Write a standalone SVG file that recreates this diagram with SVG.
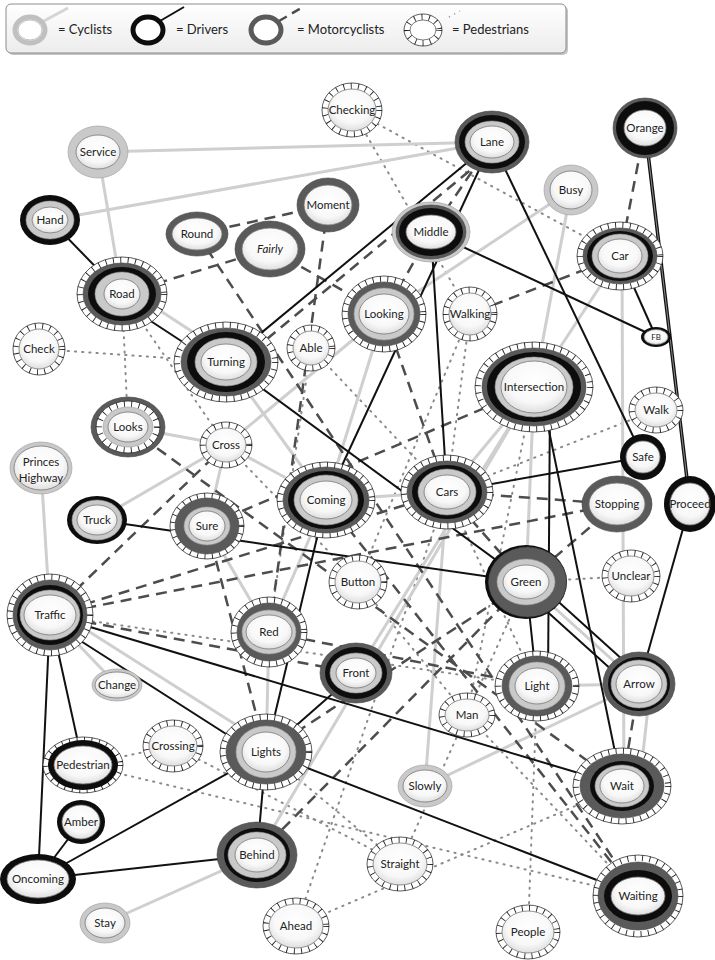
<svg xmlns="http://www.w3.org/2000/svg" width="715" height="960" viewBox="0 0 715 960">
<defs>
<radialGradient id="gi" cx="50%" cy="40%" r="62%"><stop offset="0" stop-color="#ffffff"/><stop offset="0.65" stop-color="#f8f8f8"/><stop offset="1" stop-color="#dcdcdc"/></radialGradient>
<linearGradient id="lg" x1="0" y1="0" x2="0" y2="1"><stop offset="0" stop-color="#ffffff"/><stop offset="1" stop-color="#ececec"/></linearGradient>
<style>
.po{fill:#fff;stroke:#333;stroke-width:.8}
.pt{fill:none;stroke:#222;stroke-width:6;stroke-dasharray:.9 6.5}
.m{fill:#5a5a5a;stroke:#444;stroke-width:.6}
.d{fill:#0d0d0d}
.c{fill:#c9c9c9;stroke:#9a9a9a;stroke-width:.6}
.in{fill:url(#gi);stroke:#777;stroke-width:.8}
.t{font-family:Lato,"Open Sans","Liberation Sans",sans-serif;font-size:11.5px;fill:#222;text-anchor:middle}
.lt{font-family:Lato,"Open Sans","Liberation Sans",sans-serif;font-size:13px;fill:#222}
.ec{stroke:#cfcfcf;stroke-width:3;fill:none}
.ed{stroke:#111;stroke-width:2;fill:none}
.em{stroke:#4d4d4d;stroke-width:2.5;stroke-dasharray:11 7;fill:none}
.ep{stroke:#8a8a8a;stroke-width:2;stroke-dasharray:1.2 6;stroke-linecap:round;fill:none}
</style>
</defs>
<rect width="715" height="960" fill="#fff"/>

<g id="legend">
<rect x="8" y="6" width="560" height="49" rx="5" fill="#c4c4c4"/>
<rect x="6" y="4" width="560" height="49" rx="5" fill="url(#lg)" stroke="#8c8c8c" stroke-width="1"/>
<line x1="42" y1="22" x2="68" y2="8" stroke="#d4d4d4" stroke-width="3"/>
<ellipse cx="30" cy="30" rx="15" ry="13" fill="#fff" stroke="#c0c0c0" stroke-width="5"/>
<ellipse cx="30" cy="30" rx="12" ry="10" fill="none" stroke="#999" stroke-width=".6"/>
<text class="lt" x="58" y="34">= Cyclists</text>
<line x1="160" y1="21" x2="184" y2="7" stroke="#111" stroke-width="2"/>
<ellipse cx="148" cy="30" rx="15" ry="13" fill="#fff" stroke="#0d0d0d" stroke-width="5"/>
<text class="lt" x="176" y="34">= Drivers</text>
<line x1="279" y1="21" x2="303" y2="7" stroke="#4d4d4d" stroke-width="2.5" stroke-dasharray="9 6"/>
<ellipse cx="266" cy="30" rx="15" ry="13" fill="#fff" stroke="#5a5a5a" stroke-width="5"/>
<text class="lt" x="297" y="34">= Motorcyclists</text>
<line x1="449" y1="17" x2="460" y2="11" stroke="#8a8a8a" stroke-width="1.5" stroke-dasharray="1 5"/>
<ellipse cx="423" cy="30" rx="19" ry="16" class="po"/>
<ellipse cx="423" cy="30" rx="16" ry="13" class="pt"/>
<ellipse cx="423" cy="30" rx="13" ry="10" fill="#fff" stroke="#444" stroke-width=".7"/>
<text class="lt" x="452" y="34">= Pedestrians</text>
</g>

<g id="connectors">
<!-- pedestrian (dotted) -->
<line class="ep" x1="352" y1="110" x2="620" y2="256"/>
<line class="ep" x1="352" y1="110" x2="470" y2="314"/>
<line class="ep" x1="39" y1="349" x2="226" y2="362"/>
<line class="ep" x1="122" y1="294" x2="128" y2="427"/>
<line class="ep" x1="122" y1="294" x2="226" y2="445"/>
<line class="ep" x1="470" y1="314" x2="447" y2="492"/>
<line class="ep" x1="534" y1="387" x2="467" y2="715"/>
<line class="ep" x1="656" y1="410" x2="447" y2="492"/>
<line class="ep" x1="50" y1="615" x2="537" y2="686"/>
<line class="ep" x1="83" y1="765" x2="173" y2="746"/>
<line class="ep" x1="83" y1="765" x2="638" y2="896"/>
<line class="ep" x1="266" y1="752" x2="400" y2="864"/>
<line class="ep" x1="296" y1="926" x2="447" y2="492"/>
<line class="ep" x1="296" y1="926" x2="622" y2="786"/>
<line class="ep" x1="528" y1="932" x2="537" y2="686"/>
<line class="ep" x1="467" y1="715" x2="638" y2="896"/>
<line class="ep" x1="311" y1="348" x2="269" y2="632"/>
<line class="ep" x1="526" y1="582" x2="631" y2="576"/>
<line class="ep" x1="311" y1="348" x2="447" y2="492"/>
<line class="ep" x1="226" y1="445" x2="358" y2="582"/>
<line class="ep" x1="470" y1="314" x2="358" y2="582"/>
<line class="ep" x1="173" y1="746" x2="400" y2="864"/>
<line class="ep" x1="358" y1="582" x2="467" y2="715"/>
<line class="ep" x1="447" y1="492" x2="537" y2="686"/>
<line class="ep" x1="400" y1="864" x2="526" y2="582"/>
<!-- cyclists (light grey) -->
<line class="ec" x1="98" y1="152" x2="492" y2="142"/>
<line class="ec" x1="50" y1="220" x2="492" y2="142"/>
<line class="ec" x1="98" y1="152" x2="122" y2="294"/>
<line class="ec" x1="127" y1="289" x2="231" y2="357"/>
<line class="ec" x1="226" y1="362" x2="326" y2="500"/>
<line class="ec" x1="128" y1="427" x2="226" y2="445"/>
<line class="ec" x1="226" y1="445" x2="326" y2="500"/>
<line class="ec" x1="226" y1="445" x2="97" y2="520"/>
<line class="ec" x1="226" y1="445" x2="207" y2="526"/>
<line class="ec" x1="226" y1="445" x2="384" y2="314"/>
<line class="ec" x1="41" y1="468" x2="50" y2="615"/>
<line class="ec" x1="50" y1="615" x2="117" y2="685"/>
<line class="ec" x1="55" y1="610" x2="271" y2="747"/>
<line class="ec" x1="571" y1="190" x2="534" y2="387"/>
<line class="ec" x1="571" y1="190" x2="384" y2="314"/>
<line class="ec" x1="620" y1="256" x2="534" y2="387"/>
<line class="ec" x1="622" y1="256" x2="624" y2="786"/>
<line class="ec" x1="534" y1="387" x2="447" y2="492"/>
<line class="ec" x1="534" y1="387" x2="526" y2="582"/>
<line class="ec" x1="326" y1="500" x2="447" y2="492"/>
<line class="ec" x1="326" y1="500" x2="384" y2="314"/>
<line class="ec" x1="526" y1="582" x2="639" y2="684"/>
<line class="ec" x1="537" y1="686" x2="639" y2="684"/>
<line class="ec" x1="639" y1="684" x2="425" y2="786"/>
<line class="ec" x1="650" y1="690" x2="640" y2="780"/>
<line class="ec" x1="425" y1="786" x2="447" y2="492"/>
<line class="ec" x1="326" y1="500" x2="269" y2="632"/>
<line class="ec" x1="269" y1="632" x2="207" y2="526"/>
<line class="ec" x1="269" y1="632" x2="266" y2="752"/>
<line class="ec" x1="257" y1="855" x2="105" y2="923"/>
<line class="ec" x1="257" y1="855" x2="534" y2="387"/>
<line class="ec" x1="356" y1="673" x2="534" y2="387"/>
<!-- motorcyclists (dashed) -->
<line class="em" x1="492" y1="142" x2="431" y2="232"/>
<line class="em" x1="497" y1="148" x2="232" y2="368"/>
<line class="em" x1="431" y1="232" x2="384" y2="314"/>
<line class="em" x1="328" y1="205" x2="197" y2="234"/>
<line class="em" x1="122" y1="294" x2="270" y2="249"/>
<line class="em" x1="197" y1="234" x2="638" y2="896"/>
<line class="em" x1="328" y1="205" x2="269" y2="632"/>
<line class="em" x1="270" y1="249" x2="384" y2="314"/>
<line class="em" x1="645" y1="128" x2="620" y2="256"/>
<line class="em" x1="620" y1="256" x2="470" y2="314"/>
<line class="em" x1="534" y1="387" x2="207" y2="526"/>
<line class="em" x1="447" y1="492" x2="617" y2="504"/>
<line class="em" x1="617" y1="504" x2="526" y2="582"/>
<line class="em" x1="128" y1="427" x2="622" y2="786"/>
<line class="em" x1="50" y1="615" x2="447" y2="492"/>
<line class="em" x1="50" y1="615" x2="617" y2="504"/>
<line class="em" x1="50" y1="615" x2="226" y2="445"/>
<line class="em" x1="50" y1="615" x2="356" y2="673"/>
<line class="em" x1="269" y1="632" x2="537" y2="686"/>
<line class="em" x1="266" y1="752" x2="526" y2="582"/>
<line class="em" x1="257" y1="855" x2="526" y2="582"/>
<line class="em" x1="639" y1="684" x2="622" y2="786"/>
<line class="em" x1="326" y1="500" x2="638" y2="896"/>
<line class="em" x1="207" y1="526" x2="266" y2="752"/>
<line class="em" x1="384" y1="314" x2="447" y2="492"/>
<line class="em" x1="447" y1="492" x2="526" y2="582"/>
<!-- drivers (black) -->
<line class="ed" x1="50" y1="220" x2="122" y2="294"/>
<line class="ed" x1="117" y1="299" x2="221" y2="367"/>
<line class="ed" x1="226" y1="362" x2="492" y2="142"/>
<line class="ed" x1="492" y1="142" x2="326" y2="500"/>
<line class="ed" x1="492" y1="142" x2="643" y2="457"/>
<line class="ed" x1="431" y1="232" x2="447" y2="492"/>
<line class="ed" x1="431" y1="232" x2="656" y2="337"/>
<line class="ed" x1="620" y1="256" x2="656" y2="337"/>
<line x1="645" y1="128" x2="690" y2="504" stroke="#111" stroke-width="3.5"/>
<line x1="645" y1="128" x2="690" y2="504" stroke="#999" stroke-width=".9"/>
<line class="ed" x1="690" y1="504" x2="639" y2="684"/>
<line class="ed" x1="226" y1="362" x2="526" y2="582"/>
<line class="ed" x1="97" y1="520" x2="526" y2="582"/>
<line class="ed" x1="447" y1="492" x2="643" y2="457"/>
<line class="ed" x1="540" y1="387" x2="622" y2="786"/>
<line class="ed" x1="550" y1="400" x2="548" y2="680"/>
<line class="ed" x1="526" y1="582" x2="537" y2="686"/>
<line class="ed" x1="531" y1="577" x2="644" y2="679"/>
<line class="ed" x1="521" y1="588" x2="634" y2="690"/>
<line class="ed" x1="48" y1="620" x2="262" y2="757"/>
<line class="ed" x1="50" y1="615" x2="622" y2="786"/>
<line class="ed" x1="50" y1="615" x2="83" y2="765"/>
<line class="ed" x1="50" y1="615" x2="38" y2="879"/>
<line class="ed" x1="356" y1="673" x2="266" y2="752"/>
<line class="ed" x1="266" y1="752" x2="38" y2="879"/>
<line class="ed" x1="266" y1="752" x2="638" y2="896"/>
<line class="ed" x1="266" y1="752" x2="257" y2="855"/>
<line class="ed" x1="257" y1="855" x2="38" y2="879"/>
<line class="ed" x1="81" y1="822" x2="38" y2="879"/>
<line class="ed" x1="326" y1="500" x2="266" y2="752"/>
</g>

<g id="nodes">
<g id="n-checking" transform="translate(352,110)"><ellipse class="po" rx="30" ry="27"/><ellipse class="pt" rx="27" ry="24"/><ellipse class="in" rx="24" ry="21"/><text class="t" dy="4">Checking</text></g>
<g id="n-service" transform="translate(98,152)"><ellipse class="c" rx="30" ry="26"/><ellipse class="in" rx="22" ry="17"/><text class="t" dy="4">Service</text></g>
<g id="n-lane" transform="translate(492,142)"><ellipse class="m" rx="37" ry="31"/><ellipse class="d" rx="33" ry="27"/><ellipse class="c" rx="27" ry="21"/><ellipse class="in" rx="22" ry="16"/><text class="t" dy="4">Lane</text></g>
<g id="n-orange" transform="translate(645,128)"><ellipse class="m" rx="32" ry="30"/><ellipse class="d" rx="29" ry="27"/><ellipse class="in" rx="21" ry="18"/><text class="t" dy="4">Orange</text></g>
<g id="n-busy" transform="translate(571,190)"><ellipse class="c" rx="27" ry="25"/><ellipse class="in" rx="21" ry="19"/><text class="t" dy="4">Busy</text></g>
<g id="n-hand" transform="translate(50,220)"><ellipse class="d" rx="30" ry="25"/><ellipse class="c" rx="24" ry="19"/><ellipse class="in" rx="18" ry="13"/><text class="t" dy="4">Hand</text></g>
<g id="n-moment" transform="translate(328,205)"><ellipse class="m" rx="31" ry="27"/><ellipse class="in" rx="24" ry="20"/><text class="t" dy="4">Moment</text></g>
<g id="n-round" transform="translate(197,234)"><ellipse class="m" rx="31" ry="22"/><ellipse class="in" rx="25" ry="16"/><text class="t" dy="4">Round</text></g>
<g id="n-fairly" transform="translate(270,249)"><ellipse class="m" rx="35" ry="28"/><ellipse class="in" rx="28" ry="21"/><text class="t" dy="4" font-style="italic">Fairly</text></g>
<g id="n-middle" transform="translate(431,232)"><ellipse class="c" rx="39" ry="30"/><ellipse class="m" rx="35" ry="27"/><ellipse class="d" rx="32" ry="24"/><ellipse class="in" rx="25" ry="17"/><text class="t" dy="4">Middle</text></g>
<g id="n-car" transform="translate(620,256)"><ellipse class="po" rx="43" ry="34"/><ellipse class="pt" rx="40" ry="31"/><ellipse class="m" rx="37" ry="28"/><ellipse class="d" rx="33" ry="25"/><ellipse class="c" rx="28" ry="22"/><ellipse class="in" rx="22" ry="17"/><text class="t" dy="4">Car</text></g>
<g id="n-road" transform="translate(122,294)"><ellipse class="po" rx="45" ry="37"/><ellipse class="pt" rx="42" ry="34"/><ellipse class="m" rx="39" ry="31"/><ellipse class="d" rx="34" ry="27"/><ellipse class="c" rx="27" ry="22"/><ellipse class="in" rx="18" ry="15"/><text class="t" dy="4">Road</text></g>
<g id="n-turning" transform="translate(226,362)"><ellipse class="po" rx="52" ry="40"/><ellipse class="pt" rx="49" ry="37"/><ellipse class="m" rx="45" ry="34"/><ellipse class="d" rx="39" ry="30"/><ellipse class="c" rx="31" ry="24"/><ellipse class="in" rx="25" ry="18"/><text class="t" dy="4">Turning</text></g>
<g id="n-able" transform="translate(311,348)"><ellipse class="po" rx="24" ry="23"/><ellipse class="pt" rx="21" ry="20"/><ellipse class="in" rx="18" ry="17"/><text class="t" dy="4">Able</text></g>
<g id="n-looking" transform="translate(384,314)"><ellipse class="po" rx="42" ry="38"/><ellipse class="pt" rx="39" ry="35"/><ellipse class="m" rx="36" ry="32"/><ellipse class="c" rx="30" ry="26"/><ellipse class="in" rx="25" ry="20"/><text class="t" dy="4">Looking</text></g>
<g id="n-walking" transform="translate(470,314)"><ellipse class="po" rx="27" ry="27"/><ellipse class="pt" rx="24" ry="24"/><ellipse class="in" rx="21" ry="21"/><text class="t" dy="4">Walking</text></g>
<g id="n-fb" transform="translate(656,337)"><ellipse class="d" rx="15" ry="10"/><ellipse class="in" rx="12" ry="7.5"/><text class="t" dy="3" style="font-size:8px">FB</text></g>
<g id="n-check" transform="translate(39,349)"><ellipse class="po" rx="26" ry="26"/><ellipse class="pt" rx="23" ry="23"/><ellipse class="in" rx="20" ry="20"/><text class="t" dy="4">Check</text></g>
<g id="n-intersection" transform="translate(534,387)"><ellipse class="po" rx="59" ry="45"/><ellipse class="pt" rx="56" ry="42"/><ellipse class="m" rx="52" ry="39"/><ellipse class="d" rx="47" ry="35"/><ellipse class="c" rx="39" ry="30"/><ellipse class="in" rx="33" ry="26"/><text class="t" dy="4">Intersection</text></g>
<g id="n-looks" transform="translate(128,427)"><ellipse class="m" rx="37" ry="30"/><ellipse class="po" rx="32" ry="26"/><ellipse class="pt" rx="29" ry="23"/><ellipse class="c" rx="25" ry="20"/><ellipse class="in" rx="20" ry="15"/><text class="t" dy="4">Looks</text></g>
<g id="n-cross" transform="translate(226,445)"><ellipse class="po" rx="26" ry="23"/><ellipse class="pt" rx="23" ry="20"/><ellipse class="in" rx="20" ry="17"/><text class="t" dy="4">Cross</text></g>
<g id="n-walk" transform="translate(656,410)"><ellipse class="po" rx="27" ry="23"/><ellipse class="pt" rx="24" ry="20"/><ellipse class="in" rx="21" ry="17"/><text class="t" dy="4">Walk</text></g>
<g id="n-safe" transform="translate(643,457)"><ellipse class="d" rx="23" ry="23"/><ellipse class="in" rx="17" ry="16"/><text class="t" dy="4">Safe</text></g>
<g id="n-princes" transform="translate(41,468)"><ellipse class="c" rx="31" ry="26"/><ellipse class="in" rx="27" ry="22"/><text class="t" y="-6" dy="4">Princes</text><text class="t" y="10" dy="4">Highway</text></g>
<g id="n-coming" transform="translate(326,500)"><ellipse class="po" rx="49" ry="38"/><ellipse class="pt" rx="46" ry="35"/><ellipse class="m" rx="43" ry="33"/><ellipse class="d" rx="38" ry="29"/><ellipse class="c" rx="32" ry="25"/><ellipse class="in" rx="26" ry="19"/><text class="t" dy="4">Coming</text></g>
<g id="n-cars" transform="translate(447,492)"><ellipse class="po" rx="46" ry="37"/><ellipse class="pt" rx="43" ry="34"/><ellipse class="m" rx="40" ry="31"/><ellipse class="d" rx="35" ry="27"/><ellipse class="c" rx="29" ry="23"/><ellipse class="in" rx="23" ry="17"/><text class="t" dy="4">Cars</text></g>
<g id="n-stopping" transform="translate(617,504)"><ellipse class="m" rx="35" ry="28"/><ellipse class="in" rx="28" ry="21"/><text class="t" dy="4">Stopping</text></g>
<g id="n-proceed" transform="translate(690,504)"><ellipse class="d" rx="26" ry="28"/><ellipse class="in" rx="20" ry="21"/><text class="t" dy="4">Proceed</text></g>
<g id="n-truck" transform="translate(97,520)"><ellipse class="d" rx="30" ry="24"/><ellipse class="c" rx="25" ry="20"/><ellipse class="in" rx="20" ry="15"/><text class="t" dy="4">Truck</text></g>
<g id="n-sure" transform="translate(207,526)"><ellipse class="po" rx="37" ry="33"/><ellipse class="pt" rx="34" ry="30"/><ellipse class="m" rx="32" ry="28"/><ellipse class="c" rx="23" ry="19"/><ellipse class="in" rx="18" ry="15"/><text class="t" dy="4">Sure</text></g>
<g id="n-button" transform="translate(358,582)"><ellipse class="po" rx="29" ry="27"/><ellipse class="pt" rx="26" ry="24"/><ellipse class="in" rx="23" ry="21"/><text class="t" dy="4">Button</text></g>
<g id="n-green" transform="translate(526,582)"><ellipse class="d" rx="41" ry="37"/><ellipse class="m" cx="1.5" rx="39" ry="35"/><ellipse class="c" rx="29" ry="23"/><ellipse class="in" rx="23" ry="17"/><text class="t" dy="4">Green</text></g>
<g id="n-unclear" transform="translate(631,576)"><ellipse class="po" rx="29" ry="26"/><ellipse class="pt" rx="26" ry="23"/><ellipse class="in" rx="23" ry="20"/><text class="t" dy="4">Unclear</text></g>
<g id="n-traffic" transform="translate(50,615)"><ellipse class="po" rx="43" ry="41"/><ellipse class="pt" rx="40" ry="38"/><ellipse class="m" rx="37" ry="35"/><ellipse class="d" rx="33" ry="30"/><ellipse class="c" rx="30" ry="25"/><ellipse class="in" rx="26" ry="20"/><text class="t" dy="4">Traffic</text></g>
<g id="n-red" transform="translate(269,632)"><ellipse class="po" rx="38" ry="35"/><ellipse class="pt" rx="35" ry="32"/><ellipse class="m" rx="32" ry="29"/><ellipse class="c" rx="27" ry="22"/><ellipse class="in" rx="23" ry="17"/><text class="t" dy="4">Red</text></g>
<g id="n-change" transform="translate(117,685)"><ellipse class="c" rx="25" ry="16"/><ellipse class="in" rx="22" ry="13"/><text class="t" dy="4">Change</text></g>
<g id="n-front" transform="translate(356,673)"><ellipse class="m" rx="36" ry="30"/><ellipse class="d" rx="31" ry="26"/><ellipse class="c" rx="26" ry="20"/><ellipse class="in" rx="20" ry="15"/><text class="t" dy="4">Front</text></g>
<g id="n-light" transform="translate(537,686)"><ellipse class="po" rx="42" ry="35"/><ellipse class="pt" rx="39" ry="32"/><ellipse class="m" rx="35" ry="30"/><ellipse class="c" rx="28" ry="24"/><ellipse class="in" rx="22" ry="18"/><text class="t" dy="4">Light</text></g>
<g id="n-arrow" transform="translate(639,684)"><ellipse class="m" rx="36" ry="32"/><ellipse class="d" rx="31" ry="27"/><ellipse class="c" rx="28" ry="24"/><ellipse class="in" rx="23" ry="19"/><text class="t" dy="4">Arrow</text></g>
<g id="n-man" transform="translate(467,715)"><ellipse class="po" rx="28" ry="22"/><ellipse class="pt" rx="25" ry="19"/><ellipse class="in" rx="22" ry="16"/><text class="t" dy="4">Man</text></g>
<g id="n-crossing" transform="translate(173,746)"><ellipse class="po" rx="30" ry="26"/><ellipse class="pt" rx="27" ry="23"/><ellipse class="in" rx="24" ry="20"/><text class="t" dy="4">Crossing</text></g>
<g id="n-lights" transform="translate(266,752)"><ellipse class="po" rx="46" ry="38"/><ellipse class="pt" rx="43" ry="35"/><ellipse class="m" rx="40" ry="32"/><ellipse class="c" rx="30" ry="26"/><ellipse class="in" rx="24" ry="20"/><text class="t" dy="4">Lights</text></g>
<g id="n-pedestrian" transform="translate(83,765)"><ellipse class="po" rx="40" ry="28"/><ellipse class="pt" rx="37" ry="25"/><ellipse class="d" rx="35" ry="25"/><ellipse class="in" rx="29" ry="19"/><text class="t" dy="4">Pedestrian</text></g>
<g id="n-slowly" transform="translate(425,786)"><ellipse class="c" rx="27" ry="21"/><ellipse class="in" rx="22" ry="16"/><text class="t" dy="4">Slowly</text></g>
<g id="n-wait" transform="translate(622,786)"><ellipse class="po" rx="49" ry="38"/><ellipse class="pt" rx="46" ry="35"/><ellipse class="m" rx="42" ry="32"/><ellipse class="d" rx="32" ry="25"/><ellipse class="c" rx="27" ry="21"/><ellipse class="in" rx="22" ry="17"/><text class="t" dy="4">Wait</text></g>
<g id="n-amber" transform="translate(81,822)"><ellipse class="d" rx="24" ry="22"/><ellipse class="in" rx="19" ry="17"/><text class="t" dy="4">Amber</text></g>
<g id="n-oncoming" transform="translate(38,879)"><ellipse class="d" rx="38" ry="25"/><ellipse class="in" rx="31" ry="19"/><text class="t" dy="4">Oncoming</text></g>
<g id="n-behind" transform="translate(257,855)"><ellipse class="m" rx="40" ry="33"/><ellipse class="d" rx="33" ry="27"/><ellipse class="c" rx="29" ry="23"/><ellipse class="in" rx="22" ry="17"/><text class="t" dy="4">Behind</text></g>
<g id="n-straight" transform="translate(400,864)"><ellipse class="po" rx="33" ry="27"/><ellipse class="pt" rx="30" ry="24"/><ellipse class="in" rx="27" ry="21"/><text class="t" dy="4">Straight</text></g>
<g id="n-waiting" transform="translate(638,896)"><ellipse class="po" rx="45" ry="41"/><ellipse class="pt" rx="42" ry="38"/><ellipse class="m" rx="40" ry="34"/><ellipse class="d" rx="34" ry="26"/><ellipse class="in" rx="27" ry="19"/><text class="t" dy="4">Waiting</text></g>
<g id="n-stay" transform="translate(105,923)"><ellipse class="c" rx="25" ry="20"/><ellipse class="in" rx="20" ry="15"/><text class="t" dy="4">Stay</text></g>
<g id="n-ahead" transform="translate(296,926)"><ellipse class="po" rx="33" ry="28"/><ellipse class="pt" rx="30" ry="25"/><ellipse class="in" rx="27" ry="22"/><text class="t" dy="4">Ahead</text></g>
<g id="n-people" transform="translate(528,932)"><ellipse class="po" rx="32" ry="27"/><ellipse class="pt" rx="29" ry="24"/><ellipse class="in" rx="26" ry="21"/><text class="t" dy="4">People</text></g>
</g>
</svg>
